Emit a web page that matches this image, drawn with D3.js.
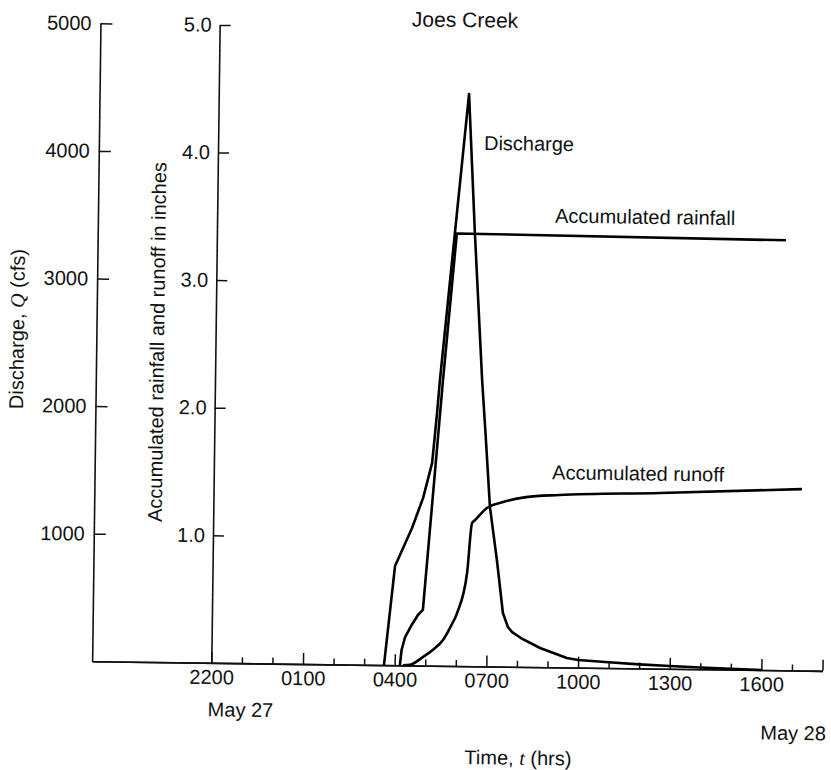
<!DOCTYPE html>
<html><head><meta charset="utf-8">
<script src="https://cdn.jsdelivr.net/npm/d3@7"></script>
<style>
body{margin:0;background:#fff;}
svg{display:block;}
text{font-family:"Liberation Sans",Arial,Helvetica,sans-serif;fill:#111;}
</style></head><body>
<svg id="chart" width="831" height="770"></svg>
<script>
// ---------------- data ----------------
const chartTitle = "Joes Creek";
// hours counted from 2200 on May 27 axis label
const xTickHours = [0, 3, 6, 9, 12, 15, 18, 20];
const xTickLabels = ["2200", "0100", "0400", "0700", "1000", "1300", "1600", ""];
const minorTickHours = [1, 2, 4, 5, 7, 8, 10, 11, 13, 14, 16, 17, 19];
const dischargeTicks = [1000, 2000, 3000, 4000, 5000];
const depthTicks = [1, 2, 3, 4, 5];

const dischargeHours = [5.65, 5.97, 6.51, 6.86, 7.14, 7.28, 7.36, 8.19, 8.44, 8.74, 8.89, 9.05, 9.30, 9.52, 9.69, 9.83, 10.12, 10.75, 11.63, 12.0, 13, 14, 15, 16, 17, 18];
const dischargeCfs   = [0, 777, 1077, 1314, 1589, 1981, 2240, 4484, 3395, 2244, 1774, 1249, 835, 420, 311, 272, 226, 150, 74, 60, 45, 32, 22, 14, 6, 0];

const rainfallHours  = [6.17, 6.22, 6.33, 6.54, 6.74, 6.90, 7.46, 7.85, 18.62];
const rainfallInches = [0, 0.12, 0.222, 0.317, 0.396, 0.436, 2.24, 3.39, 3.37];

const runoffHours  = [6.27, 6.50, 6.92, 7.24, 7.57, 7.79, 8.02, 8.33, 8.47, 8.57, 8.95, 9.48, 10.23, 11.31, 14.61, 19.25];
const runoffInches = [0, 0.005, 0.067, 0.123, 0.202, 0.297, 0.415, 0.73, 1.12, 1.146, 1.241, 1.29, 1.331, 1.351, 1.377, 1.422];

// ---------------- layout ----------------
const svg = d3.select("#chart");
const g = svg.append("g").attr("transform", "rotate(0.75,456,345)");

const x = d3.scaleLinear().domain([-3.9, 20]).range([96.3, 826.7]);
const yQ = d3.scaleLinear().domain([0, 5000]).range([666, 28]);
const yR = d3.scaleLinear().domain([0, 5]).range([666, 28]);
const FS = 20;

function styleAxis(sel) {
  sel.selectAll("path.domain").attr("stroke", "#111").attr("stroke-width", 1.6);
  sel.selectAll(".tick line").attr("stroke", "#111").attr("stroke-width", 1.5);
  sel.selectAll(".tick text").attr("font-size", FS).attr("font-family", '"Liberation Sans",Arial,sans-serif').attr("fill", "#111");
}

// x axis minor ticks
g.append("g").attr("transform", `translate(0,${yQ(0)})`)
  .call(d3.axisBottom(x).tickValues(minorTickHours).tickSizeInner(-6).tickSizeOuter(0).tickFormat(""))
  .call(styleAxis);
// x axis major ticks + labels
g.append("g").attr("transform", `translate(0,${yQ(0)})`)
  .call(d3.axisBottom(x).tickValues(xTickHours).tickSizeInner(-11).tickSizeOuter(0).tickPadding(7)
        .tickFormat((d, i) => xTickLabels[i]))
  .call(styleAxis);

// discharge axis
g.append("g").attr("transform", `translate(${x.range()[0]},0)`)
  .call(d3.axisLeft(yQ).tickValues(dischargeTicks).tickSizeInner(-12).tickSizeOuter(0).tickPadding(9).tickFormat(d3.format("d")))
  .call(styleAxis);

// depth axis at 2200
g.append("g").attr("transform", `translate(${x(0)},0)`)
  .call(d3.axisLeft(yR).tickValues(depthTicks).tickSizeInner(-11).tickSizeOuter(0).tickPadding(8).tickFormat(d3.format(".1f")))
  .call(styleAxis);

// curves
const lineQ = d3.line().x((d, i) => x(dischargeHours[i])).y(d => yQ(d)).curve(d3.curveLinear);
const lineRain = d3.line().x((d, i) => x(rainfallHours[i])).y(d => yR(d)).curve(d3.curveLinear);
const lineRun = d3.line().x((d, i) => x(runoffHours[i])).y(d => yR(d)).curve(d3.curveMonotoneX);

g.append("path").attr("d", lineQ(dischargeCfs)).attr("fill", "none").attr("stroke", "#000").attr("stroke-width", 2.6).attr("stroke-linejoin", "round");
g.append("path").attr("d", lineRain(rainfallInches)).attr("fill", "none").attr("stroke", "#000").attr("stroke-width", 2.6).attr("stroke-linejoin", "round");
g.append("path").attr("d", lineRun(runoffInches)).attr("fill", "none").attr("stroke", "#000").attr("stroke-width", 2.6).attr("stroke-linejoin", "round");

// titles and labels
g.append("text").attr("x", 460.8).attr("y", 27).attr("text-anchor", "middle").attr("font-size", 21).text(chartTitle);

g.append("text").attr("x", 481.4).attr("y", 149.6).attr("font-size", FS).text("Discharge");
g.append("text").attr("x", 553.4).attr("y", 221.4).attr("font-size", FS).text("Accumulated rainfall");
g.append("text").attr("x", 553.8).attr("y", 478).attr("font-size", FS).text("Accumulated runoff");

const ql = g.append("text").attr("transform", "translate(23.8,334.8) rotate(-90)").attr("text-anchor", "middle").attr("font-size", FS);
ql.append("tspan").text("Discharge, ");
ql.append("tspan").attr("font-style", "italic").attr("font-family", '"Liberation Serif",serif').text("Q");
ql.append("tspan").text(" (cfs)");

g.append("text").attr("transform", "translate(164,345.9) rotate(-90)").attr("text-anchor", "middle").attr("font-size", FS)
  .text("Accumulated rainfall and runoff in inches");

g.append("text").attr("x", x(0) - 3).attr("y", yQ(0) + 53.5).attr("font-size", FS).text("May 27");
g.append("text").attr("x", 831).attr("y", yQ(0) + 69.5).attr("text-anchor", "end").attr("font-size", FS).text("May 28");

const tl = g.append("text").attr("x", 523.4).attr("y", yQ(0) + 98).attr("text-anchor", "middle").attr("font-size", FS);
tl.append("tspan").text("Time, ");
tl.append("tspan").attr("font-style", "italic").attr("font-family", '"Liberation Serif",serif').text("t");
tl.append("tspan").text(" (hrs)");
</script>
</body></html>
